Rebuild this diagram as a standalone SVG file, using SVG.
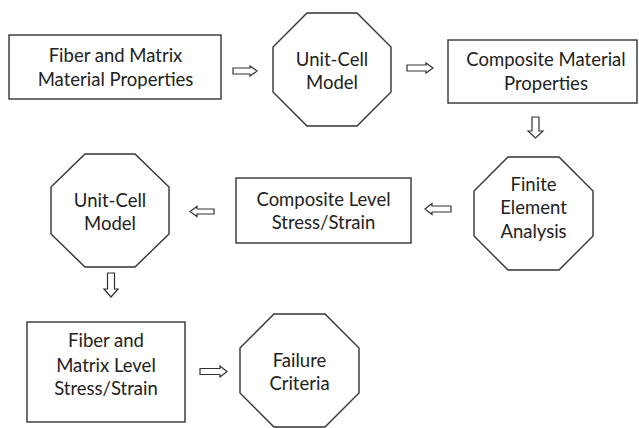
<svg xmlns="http://www.w3.org/2000/svg" width="639" height="428" viewBox="0 0 639 428">
  <style>
    .node { fill: #ffffff; stroke: #333333; stroke-width: 1.4; }
    .arrow { fill: #ffffff; stroke: #333333; stroke-width: 1.2; stroke-linejoin: miter; }
    .label { font-family: Lato, "Open Sans", "Liberation Sans", sans-serif; font-size: 18.5px; fill: #222222; text-anchor: middle; }
  </style>
  <rect width="639" height="428" fill="#ffffff"/>

  <g id="connectors">
    <!-- hollow block arrows between the steps -->
    <path class="arrow" d="M233,68 H250 V66 L257,71 L250,76 V74 H233 Z"/>
    <path class="arrow" d="M407,65 H426 V63 L433,68 L426,73 V71 H407 Z"/>
    <path class="arrow" d="M532,117 V131 H528 L535.5,138 L543,131 H539 V117 Z"/>
    <path class="arrow" d="M451,206 H432 V203.5 L425,209 L432,214.5 V212 H451 Z"/>
    <path class="arrow" d="M214,209 H197 V206.5 L190,211.5 L197,216.5 V214 H214 Z"/>
    <path class="arrow" d="M107.5,273 V289 H104 L111,297 L118,289 H114.5 V273 Z"/>
    <path class="arrow" d="M200,368.5 H220 V366 L227,371.5 L220,377 V374.5 H200 Z"/>
  </g>

  <g id="fiber-matrix-properties">
    <rect class="node" x="9" y="35" width="212" height="64"/>
    <text class="label" x="115.5" y="62">Fiber and Matrix</text>
    <text class="label" x="115.5" y="85.5">Material Properties</text>
  </g>

  <g id="unit-cell-model-1">
    <polygon class="node" points="307,13 357,13 391,47 391,92 357,126 307,126 273,92 273,47"/>
    <text class="label" x="332" y="66">Unit-Cell</text>
    <text class="label" x="332" y="89">Model</text>
  </g>

  <g id="composite-material-properties">
    <rect class="node" x="448" y="40" width="189" height="63"/>
    <text class="label" x="546" y="66">Composite Material</text>
    <text class="label" x="546" y="89.5">Properties</text>
  </g>

  <g id="finite-element-analysis">
    <polygon class="node" points="508,157 559,157 593,191 593,236 559,270 508,270 474,236 474,191"/>
    <text class="label" x="533.5" y="191">Finite</text>
    <text class="label" x="533.5" y="214">Element</text>
    <text class="label" x="533.5" y="237.5">Analysis</text>
  </g>

  <g id="composite-level-stress-strain">
    <rect class="node" x="236" y="178" width="175" height="65"/>
    <text class="label" x="323.5" y="206">Composite Level</text>
    <text class="label" x="323.5" y="228.5">Stress/Strain</text>
  </g>

  <g id="unit-cell-model-2">
    <polygon class="node" points="85,154 135,154 169,187 169,234 135,267 85,267 51,234 51,187"/>
    <text class="label" x="110" y="207">Unit-Cell</text>
    <text class="label" x="110" y="230">Model</text>
  </g>

  <g id="fiber-matrix-level-stress-strain">
    <rect class="node" x="27" y="322" width="158" height="100"/>
    <text class="label" x="106" y="347">Fiber and</text>
    <text class="label" x="106" y="371.5">Matrix Level</text>
    <text class="label" x="106" y="395">Stress/Strain</text>
  </g>

  <g id="failure-criteria">
    <polygon class="node" points="274,314 325,314 359,348 359,393 325,427 274,427 240,393 240,348"/>
    <text class="label" x="299.5" y="367">Failure</text>
    <text class="label" x="299.5" y="390">Criteria</text>
  </g>
</svg>
